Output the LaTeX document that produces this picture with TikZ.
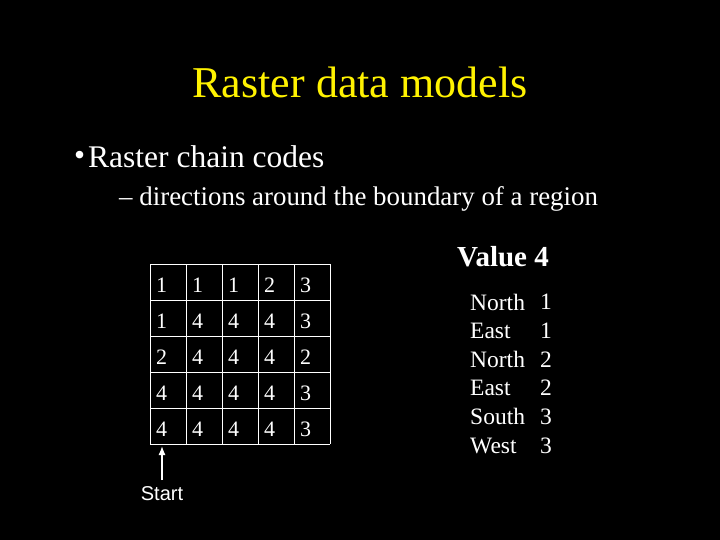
\documentclass[tikz,border=0pt]{standalone}
\usepackage{fontspec}
\usetikzlibrary{arrows.meta}
\setmainfont{Liberation Serif}
\newfontfamily\sansf{Liberation Sans}
\begin{document}
\begin{tikzpicture}[x=1pt,y=-1pt,
  txt/.style={text=white,inner sep=0pt},
  cell/.style={txt,anchor=west,font=\fontsize{22}{22}\selectfont},
  wd/.style={txt,anchor=west,font=\fontsize{23.5}{23.5}\selectfont}]
\fill[black] (0,0) rectangle (720,540);
\useasboundingbox (0,0) rectangle (720,540);
\node[txt,text=yellow,font=\fontsize{44}{44}\selectfont] (title) at (360,82) {Raster data models};
\node[txt,anchor=west,font=\fontsize{31.5}{31.5}\selectfont] (bul) at (74,158) {\textbullet};
\node[txt,anchor=west,font=\fontsize{31.5}{31.5}\selectfont] (b1) at (88,157) {Raster chain codes};
\node[txt,anchor=west,font=\fontsize{26.9}{26.9}\selectfont] (b2) at (119,199) {– directions around the boundary of a region};
\foreach \k in {0,...,5}{
  \draw[white,line width=1pt] (150+36*\k,264) -- (150+36*\k,444);
  \draw[white,line width=1pt] (150,264+36*\k) -- (330,264+36*\k);
}
\foreach \r [count=\i from 0] in {{1,1,1,2,3},{1,4,4,4,3},{2,4,4,4,2},{4,4,4,4,3},{4,4,4,4,3}}{
  \foreach \v [count=\j from 0] in \r {
    \node[cell] (c\i\j) at (156+36*\j,285+36*\i) {\v};
  }}
\coordinate (s) at (162,480);
\draw[white,line width=1.3pt,-{Latex[length=9pt,width=7pt]}] (s) -- (162,446);
\node[txt,font=\sansf\fontsize{20}{20}\selectfont] (start) at (162,494) {Start};
\node[txt,font=\bfseries\fontsize{29}{29}\selectfont] (val) at (503,257) {Value 4};
\foreach \w/\n [count=\i from 0] in {North/1,East/1,North/2,East/2,South/3,West/3}{
  \node[wd] (w\i) at (470,302+28.7*\i) {\w};
  \node[wd] (n\i) at (540,302+28.7*\i) {\n};
}
\end{tikzpicture}
\end{document}
